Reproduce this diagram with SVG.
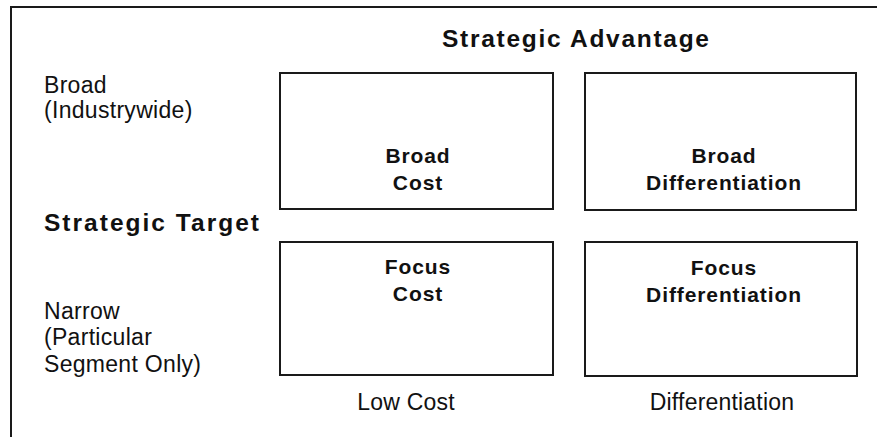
<svg xmlns="http://www.w3.org/2000/svg" width="877" height="437" viewBox="0 0 877 437">
  <style>
    .frame { fill: none; stroke: #1a1a1a; stroke-width: 2; }
    .cell { fill: #ffffff; stroke: #1a1a1a; stroke-width: 2; }
    .lbl { font-family: "Liberation Sans", Arial, sans-serif; font-size: 23px; fill: #111; letter-spacing: 0.3px; }
    .title { font-family: "Liberation Sans", Arial, sans-serif; font-size: 24.5px; font-weight: bold; fill: #111; }
    .cellText { font-family: "Liberation Sans", Arial, sans-serif; font-size: 21px; font-weight: bold; fill: #111; text-anchor: middle; letter-spacing: 0.9px; }
    .axis { font-family: "Liberation Sans", Arial, sans-serif; font-size: 23px; fill: #111; text-anchor: middle; letter-spacing: 0.2px; }
  </style>
  <rect width="877" height="437" fill="#ffffff"/>

  <!-- outer frame, running off the right and bottom edges -->
  <rect class="frame" x="11" y="7" width="900" height="500"/>

  <!-- axis titles -->
  <g id="strategic-advantage">
    <text class="title" x="442" y="46.5" textLength="267" lengthAdjust="spacing">Strategic Advantage</text>
  </g>
  <g id="strategic-target">
    <text class="title" x="44" y="231" textLength="215" lengthAdjust="spacing">Strategic Target</text>
  </g>

  <!-- row labels -->
  <g id="row-broad">
    <text class="lbl" x="44" y="93">Broad</text>
    <text class="lbl" x="44" y="118">(Industrywide)</text>
  </g>
  <g id="row-narrow">
    <text class="lbl" x="44" y="319">Narrow</text>
    <text class="lbl" x="44" y="345">(Particular</text>
    <text class="lbl" x="44" y="372">Segment Only)</text>
  </g>

  <!-- quadrants -->
  <g id="broad-cost">
    <rect class="cell" x="280" y="73" width="273" height="136"/>
    <text class="cellText" x="418" y="163">Broad</text>
    <text class="cellText" x="418" y="190">Cost</text>
  </g>
  <g id="broad-differentiation">
    <rect class="cell" x="585" y="73" width="271" height="137"/>
    <text class="cellText" x="724" y="163">Broad</text>
    <text class="cellText" x="724" y="190">Differentiation</text>
  </g>
  <g id="focus-cost">
    <rect class="cell" x="280" y="242" width="273" height="133"/>
    <text class="cellText" x="418" y="274">Focus</text>
    <text class="cellText" x="418" y="301">Cost</text>
  </g>
  <g id="focus-differentiation">
    <rect class="cell" x="585" y="242" width="272" height="134"/>
    <text class="cellText" x="724" y="275">Focus</text>
    <text class="cellText" x="724" y="302">Differentiation</text>
  </g>

  <!-- column labels -->
  <g id="col-low-cost">
    <text class="axis" x="406" y="410">Low Cost</text>
  </g>
  <g id="col-differentiation">
    <text class="axis" x="722" y="410">Differentiation</text>
  </g>

  <!-- no connectors in this chart -->
  <g id="connectors"></g>
</svg>
